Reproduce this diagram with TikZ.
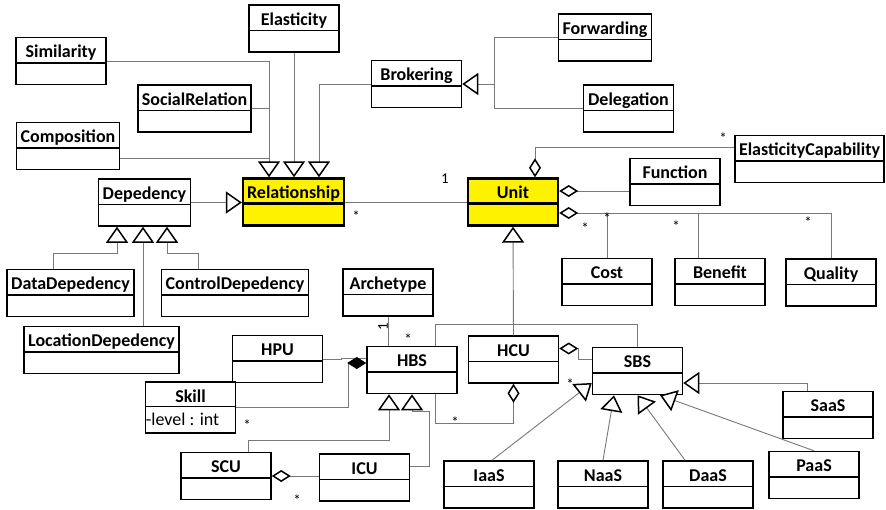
\documentclass[tikz,border=0pt]{standalone}
\usepackage{fontspec}
\setmainfont{Carlito}
\usetikzlibrary{arrows.meta,calc}
\tikzset{cls/.style={draw, line width=1.5pt, font=\bfseries\fontsize{18}{20}\selectfont,
  minimum width=90pt, inner xsep=4pt, inner ysep=0pt, text height=20pt, text depth=27pt},
  key/.style={cls, fill=yellow, line width=2.4pt},
  link/.style={draw={rgb,255:red,120;green,120;blue,120}, line width=0.9pt},
  gen/.style={link, -{Triangle[open, length=16pt, width=22pt, line width=1.5pt, color=black, fill=white]}},
  agg/.style={link, {Diamond[open, length=19pt, width=12pt, line width=1.5pt, color=black, fill=white]}-},
  comp/.style={link, {Diamond[length=19pt, width=12pt, color=black]}-},
  mult/.style={font=\fontsize{15}{15}\selectfont, inner sep=0pt}}
\begin{document}
\begin{tikzpicture}[x=1pt, y=-1pt]
        \useasboundingbox (0,0) rectangle (886,509);

        \node[cls] (elasticity) at (294,28.5) {Elasticity};
        \node[cls] (similarity) at (61,61) {Similarity};
        \node[cls] (socialrel) at (194.5,108.5) {SocialRelation};
        \node[cls] (composition) at (68,146) {Composition};
        \node[cls] (brokering) at (416.5,84) {Brokering};
        \node[cls] (forwarding) at (605,37.5) {Forwarding};
        \node[cls] (delegation) at (628.5,108.5) {Delegation};
        \node[cls] (depedency) at (144.5,202.5) {Depedency};
        \node[key] (relationship) at (293.5,202) {Relationship};
        \node[key] (unit) at (513,202) {Unit};
        \node[cls] (function) at (675,182) {Function};
        \node[cls] (elastcap) at (809.5,159) {ElasticityCapability};
        \node[cls] (cost) at (607,282) {Cost};
        \node[cls] (benefit) at (720,282) {Benefit};
        \node[cls] (quality) at (831,282.5) {Quality};
        \node[cls] (datadep) at (70.5,293) {DataDepedency};
        \node[cls] (controldep) at (235,293) {ControlDepedency};
        \node[cls] (locationdep) at (101.5,350) {LocationDepedency};
        \node[cls] (archetype) at (388,292.5) {Archetype};
        \node[cls] (hpu) at (277.5,359) {HPU};
        \node[cls] (hbs) at (412,370) {HBS};
        \node[cls] (hcu) at (513.5,359.5) {HCU};
        \node[cls] (sbs) at (637.5,371) {SBS};
        \node[cls, text depth=31pt] (skill) at (190.5,407.5) {Skill};
        \node[cls] (scu) at (226,476) {SCU};
        \node[cls] (icu) at (364.5,477.5) {ICU};
        \node[cls] (saas) at (828,415) {SaaS};
        \node[cls] (iaas) at (489,484.5) {IaaS};
        \node[cls] (naas) at (603,484.5) {NaaS};
        \node[cls] (daas) at (708,484.5) {DaaS};
        \node[cls] (paas) at (814,475) {PaaS};
        \node[anchor=base west, inner sep=1pt, font=\fontsize{18}{20}\selectfont] (skillattr)
              at ([yshift=-44pt]skill.north west) {-level : int};

        \foreach \n in {elasticity,similarity,socialrel,composition,brokering,forwarding,
                        delegation,depedency,function,elastcap,cost,benefit,quality,datadep,
                        controldep,locationdep,archetype,hpu,hbs,hcu,sbs,scu,icu,saas,iaas,
                        naas,daas,paas}
            \draw[line width=1.5pt] ([yshift=-26pt]\n.north west) -- ([yshift=-26pt]\n.north east);
        \draw[line width=1.5pt] ([yshift=-25pt]skill.north west) -- ([yshift=-25pt]skill.north east);
        \foreach \n in {relationship,unit}
            \draw[line width=2.4pt] ([yshift=-26pt]\n.north west) -- ([yshift=-26pt]\n.north east);

        \coordinate (rell) at ([xshift=-24.5pt]relationship.north);
        \coordinate (relr) at ([xshift=25.5pt]relationship.north);
        \coordinate (brkj) at ([xshift=-63pt]forwarding.west |- brokering.east);
        \coordinate (dd1) at ([xshift=-27.5pt]depedency.south);
        \coordinate (dd2) at ([xshift=-1.5pt]depedency.south);
        \coordinate (dd3) at ([xshift=22.5pt]depedency.south);
        \coordinate (uj) at ([yshift=-11pt]unit.east);

        \draw[gen] (similarity.east) -| (rell);
        \draw[link] (socialrel.east) -- (socialrel.east -| rell);
        \draw[link] ([yshift=-12pt]composition.east) -- ([yshift=-12pt]composition.east -| rell);
        \draw[gen] (elasticity.south) -- (elasticity.south |- relationship.north);
        \draw[gen] (brokering.west) -| (relr);
        \draw[link] (forwarding.west) -| (brkj) |- (delegation.west);
        \draw[gen] (brkj) -- (brokering.east);
        \draw[gen] (depedency.east) -- (depedency.east -| relationship.west);
        \draw[link] (relationship.east) -- (unit.west);

        \draw[gen] ([xshift=-17.5pt]datadep.north) -- ++(0,-15) -| (dd1);
        \draw[gen] (locationdep.north -| dd2) -- (dd2);
        \draw[gen] ([xshift=-37pt]controldep.north) -- ++(0,-15) -| (dd3);

        \draw[agg] ([xshift=22pt]unit.north) |- ([yshift=12pt]elastcap.west);
        \draw[agg] ([yshift=11pt]unit.east) -- ([yshift=11pt]unit.east -| function.west);
        \draw[agg] (uj) -| (quality.north);
        \draw[link] (cost.north) -- (cost.north |- uj);
        \draw[link] ([xshift=-22pt]benefit.north) -- ([xshift=-22pt]benefit.north |- uj);

        \draw[gen] (hcu.north) -- (unit.south);
        \draw[link] ([xshift=23pt]hbs.north) -- ++(0,-21) -| (sbs.north);
        \draw[link] (archetype.south) -- (archetype.south |- hbs.north);
        \draw[agg] ([yshift=11pt]hcu.east) -- ++(19,0) |- ([yshift=12pt]sbs.west);
        \draw[agg] (hcu.south) -- ++(0,40) -| ([xshift=23pt]hbs.south);

        \draw[link] (hpu.east) -- ++(18,0) |- ([yshift=12pt]hbs.west);
        \draw[comp] ([yshift=7pt]hbs.west) -- ++(-18,0) |- (skill.east);
        \draw[gen] ([xshift=22pt]scu.north) -- ++(0,-11) -| ([xshift=-23pt]hbs.south);
        \draw[gen] ([yshift=11.5pt]icu.east) -- ++(19,0) |- ([yshift=-17pt]hbs.south) -- (hbs.south);
        \draw[agg] (scu.east) -- (scu.east -| icu.west);

        \draw[gen] ([xshift=3pt]iaas.north) -- ([yshift=-12pt]sbs.west);
        \draw[gen] (naas.north) -- ([xshift=-23.5pt]sbs.south);
        \draw[gen] ([xshift=-23pt]daas.north) -- (sbs.south);
        \draw[gen] (paas.north) -- ([xshift=22.5pt]sbs.south);
        \draw[gen] ([xshift=-21pt]saas.north) |- ([yshift=-12pt]sbs.east);

        \node[mult] (m1) at (356,216) {*};
        \node[mult] (m2) at (445,179) {1};
        \node[mult] (m3) at (723,138) {*};
        \node[mult] (m4) at (585,228) {*};
        \node[mult] (m5) at (607,218) {*};
        \node[mult] (m6) at (676,226) {*};
        \node[mult] (m7) at (808,222) {*};
        \node[mult, rotate=90] (m8) at (383,327) {1};
        \node[mult] (m9) at (408,339) {*};
        \node[mult] (m10) at (455,422) {*};
        \node[mult] (m11) at (247,425) {*};
        \node[mult] (m12) at (297,500) {*};
        \node[mult] (m13) at (570,384) {*};
\end{tikzpicture}
\end{document}
